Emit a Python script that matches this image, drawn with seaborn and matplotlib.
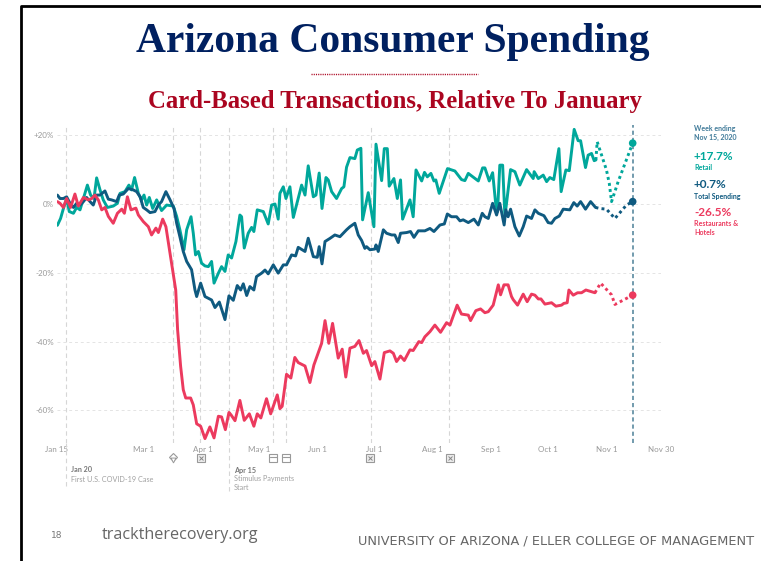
import matplotlib
matplotlib.use("Agg")
import matplotlib.pyplot as plt
import seaborn as sns
from matplotlib.lines import Line2D

# x values are days since Jan 15 2020, y values are % change relative to January
retail_days = [0.2, 1.9, 3.4, 5.1, 6.5, 8.7, 10.4, 12.2, 14, 16.1, 17.8, 19.6, 21, 22.8, 24.5, 26.7, 29.8, 32, 33.4, 36,
               38.1, 39.5, 41.1, 43.1, 44.8, 46.1, 47.5, 48.9, 50.7, 52.8, 55.4, 58.1, 61.6, 63.4, 65.1, 67.3, 68.7, 71, 72.2, 73.4,
               74.9, 76.6, 78.4, 80.2, 81.9, 83.2, 85.5, 87.2, 89, 90.7, 92.5, 94.8, 96.9, 97.8, 99.2, 101.3, 103.1, 104.3, 106.1, 109.3,
               111.9, 113.7, 115.5, 117.2, 118.1, 119.9, 121.3, 123.4, 125.2, 127.8, 129.6, 131.4, 133.1, 135.8, 137.2, 138.9, 140.4, 142.5, 143.7, 145.5,
               148.1, 150.8, 152, 153.4, 155.2, 157.8, 159.1, 161, 161.9, 164.9, 167.9, 169, 172, 173.4, 175, 176, 178.5, 180.3, 182, 183.1,
               187, 188.7, 190.2, 193.2, 194.7, 196.2, 198.1, 199.7, 200.7, 202.5, 206.9, 210.8, 214.3, 216.1, 217.9, 223.2, 225.5, 226.7, 229, 230.8,
               232.4, 233.4, 234.6, 236.1, 237.3, 240.3, 242.6, 245.2, 248.8, 252.3, 252.8, 255, 257.6, 259.4, 261.1, 263.2, 265.9, 267.1, 269.6, 271.4,
               274, 276.1, 277.4, 280, 281.4, 283.2, 284.6, 285.5]
retail_vals = [-6.2, -4.2, -1.3, 1.6, -2.2, -2.7, -1, -1.7, 1.6, 5.5, 2.6, 1.6, 7.6, 4.1, 1.2, -1, -0.6, 0.2, 3.1, 3.6,
               5.5, 4.1, 7.7, 3.1, 1.2, 2.6, -0.3, 1.9, -1.3, 1.2, -1.9, -0.3, -0.6, -3.6, -7.5, -13.3, -7.5, -3.7, -8.5, -14.8,
               -13.8, -17.2, -18, -18.2, -16.7, -23, -20.1, -18.2, -19.6, -14.8, -15.7, -10.9, -3.2, -3.7, -12.8, -8.5, -6.8, -8, -1.7, -2.2,
               -5.8, -0.3, 0, -4.4, 3.1, 5, 1.6, 5, -3.9, 1.6, 5.5, 2.6, 11.1, 2.1, 2.6, 9, -1.3, 7.7, 7, 3.6,
               1.6, 4.5, 5, 10.7, 13.5, 13.2, 15.7, 16.2, -4.6, 3.3, -6.6, 17.4, 6.8, 16.1, 16.1, 5.2, 7.4, 1.6, 7, -4.4,
               1.2, -3.7, 9.9, 6.7, 9.2, 7.9, 8.9, 6.7, 7, 3.1, 10.3, 9.6, 7.1, 6.8, 8.9, 6.7, 10.5, 10.5, 6.7, 9.1,
               0.2, -2.2, 11.3, 11.3, -3.7, 10, 9.4, 5.5, 10, 7.4, 9.4, 7.4, 8.4, 6.5, 7.7, 7.1, 16.1, 3.6, 9.9, 9.7,
               21.7, 18.4, 18.4, 10.6, 14.2, 14.7, 12.6, 12.8]
retail_dot_days = [285.5, 286.2, 291.1, 292.6, 293.8, 297.3, 305]
retail_dot_vals = [12.8, 18.1, 9.9, 6, 0.7, 6.5, 17.7]

total_days = [0.2, 1.6, 3.4, 5.1, 6.9, 8.7, 10.4, 12.2, 14, 15.7, 17.5, 19.2, 21, 22.8, 25.4, 27.2, 28.9, 31.6, 33, 35.1,
              37.8, 40.4, 42.2, 44, 45.7, 47.5, 49.3, 51.9, 53.7, 55.4, 57.7, 59.9, 62, 63.4, 65.1, 66.9, 68.7, 71.3, 73.1, 74,
              76.1, 78.4, 81.9, 83.7, 86, 89, 91.1, 93.4, 95.5, 97.3, 98.7, 100.5, 102.2, 104.3, 105.7, 108.4, 110.2, 111.9, 114.6, 117.2,
              119.9, 121.6, 124.3, 126.4, 127.8, 131.4, 133.1, 135.8, 137.9, 138.9, 140.4, 142, 144.6, 147.2, 149.9, 153.4, 155.2, 157.8, 159.6, 161.4,
              163.1, 164, 165.8, 168.4, 169, 170.2, 172.9, 174.6, 177.3, 179, 180.8, 182, 185.2, 187.3, 189.1, 191.4, 194.9, 197.6, 199.7, 202.9,
              205.2, 206.8, 209, 211.7, 213.5, 215.2, 217.9, 220.9, 223.2, 225.3, 226.7, 228.5, 230.8, 232.9, 234.6, 236.9, 237.8, 239, 240.3, 242.6,
              244.9, 247, 248.8, 251.4, 253.2, 255, 258, 260.2, 262, 263.8, 266.1, 268.2, 271.7, 273.8, 275.6, 277.4, 280, 282.7, 285.3]
total_vals = [2.6, 1.6, 1.6, 2.1, 0.2, -1, 0.2, -0.3, 0.7, 1.9, 0.7, -0.3, 2.6, 2.6, 3.8, 1.4, 1.2, 0.7, 2.6, 2.9,
              4.5, 4.1, 3.6, 2.1, -1, -1.7, -2.5, -2.2, -0.3, 0.7, 3.6, 1.2, -1.3, -5.6, -9.5, -13.8, -16.7, -19.1, -25, -26.9,
              -23, -26.9, -27.9, -30.1, -28.5, -33.6, -26.7, -28, -23.7, -25, -23.2, -26.6, -24, -25, -21.1, -20.1, -19.2, -20.3, -17.7, -20.1,
              -17.7, -17.7, -14.8, -15.1, -12.6, -13.8, -9.95, -15.3, -15.5, -12.4, -17.4, -10.9, -10, -9, -9.5, -7.5, -6.6, -5.6, -9, -10.6,
              -12.9, -12.4, -13.3, -13.1, -11.9, -13.8, -7.5, -8.5, -9, -9, -11.2, -8.5, -8.3, -8, -9.7, -7.8, -7.8, -7.1, -8, -6.1,
              -5.8, -2.9, -3.7, -3.7, -4.9, -4.6, -5.4, -4.4, -6.1, -2.7, -3.7, -4.2, 0.2, -3.2, 0.2, -6.1, -1.7, -3.7, -1.5, -6.6,
              -9.3, -6.6, -3.5, -4.2, -1.7, -2.7, -3.4, -5.4, -5.6, -4.2, -3.5, -1.5, -1.7, 0.4, -0.6, 0.7, -1.5, 0.7, -1]
total_dot_days = [285.3, 287.6, 291.1, 295.6, 301.7, 305]
total_dot_vals = [-1, -1.3, -1.5, -4.2, -0.3, 0.7]

rest_days = [0.2, 1.6, 3.4, 5.1, 7.2, 9.5, 11.3, 14, 16.6, 18.4, 20.1, 21.9, 23.7, 25.4, 27.2, 29.8, 32, 34.3, 35.7, 37.3,
             39.2, 41.8, 43.1, 45.7, 48.4, 50.1, 52.4, 53.7, 56, 57.7, 59.9, 61.6, 62.9, 63.9, 65.5, 66.9, 68.2, 70.8, 72.2, 74,
             76.1, 78.4, 81, 83.2, 85.5, 87.2, 89.2, 91.1, 92.2, 94.3, 96.9, 99.2, 101.9, 104.3, 106.1, 108, 111, 113.2, 116.7, 118.1,
             119.3, 121.6, 123.9, 126, 127.8, 131.4, 134, 136.1, 140.2, 142, 144, 146, 149, 151.1, 153, 155.2, 157.8, 160, 162.3, 164,
             166.7, 168.4, 171.1, 173.4, 176.4, 178.2, 179.9, 182, 184, 187, 188.7, 191.7, 193.2, 194.9, 197.6, 200.2, 203.2, 206.4, 208.2, 212,
             214.3, 217.9, 219.1, 221.9, 224.4, 226.7, 228.5, 231.1, 233.8, 235, 236.8, 239, 240.8, 241.7, 244, 247, 249.1, 251.4, 253.2, 255,
             256.4, 258.5, 262, 264.3, 267.3, 268.5, 270.3, 271.2, 273.5, 275.8, 277.9, 280.2, 285]
rest_vals = [0.7, 0.2, -1, 1.6, -1, 2.9, -0.6, 1.9, 1.2, 1.6, 2.6, 1.2, -1.7, -1, -3.6, -5.6, -2.7, -1.5, -2.7, 2.1,
             -1.7, -1.2, -3.2, -5.1, -6.6, -9, -7, -8.3, -4.4, -6.6, -14.3, -20.1, -25, -36.6, -47.2, -54, -56.4, -56.4, -58.4, -63.9,
             -64.6, -68.2, -64.8, -68, -61.7, -61.9, -65.6, -60.6, -61.3, -63, -57.1, -62.9, -61, -64.6, -61, -62.2, -56.6, -61, -55.5, -59.5,
             -58.8, -49.5, -50.6, -44.6, -46.1, -47.1, -51.9, -46.8, -40.5, -33.9, -40.5, -34.7, -44.8, -42.2, -50.3, -41.9, -41.4, -39.7, -43.4, -42.6,
             -47, -45.8, -50.9, -43.2, -42.7, -43.4, -45.8, -44.2, -45.5, -42.4, -42.6, -40, -40.3, -38.6, -37.1, -35.2, -37.3, -34.5, -35.2, -29.4,
             -32, -32.3, -33.9, -31, -30.5, -31.6, -31.3, -29.4, -23.5, -26.4, -23.5, -23.5, -26.9, -27.8, -29.4, -26.2, -28.4, -26.2, -26.5, -27.6,
             -27.6, -29.1, -28.7, -29.7, -29.4, -28.9, -28.7, -25, -26.5, -25.8, -25.8, -25, -25.8]
rest_dot_days = [285, 288, 293.8, 295.6, 305]
rest_dot_vals = [-25.8, -23, -26.4, -29.2, -26.5]

end_day = 305
end_vals = [17.7, 0.7, -26.5]

tick_days = [0, 46, 77, 107, 138, 168, 199, 230, 260, 291, 320]
tick_labels = ["Jan 15", "Mar 1", "Apr 1", "May 1", "Jun 1", "Jul 1", "Aug 1", "Sep 1", "Oct 1", "Nov 1", "Nov 30"]
y_ticks = [20, 0, -20, -40, -60]
y_labels = ["+20%", "0%", "-20%", "-40%", "-60%"]
event_days = [5, 61.3, 76, 91, 114.2, 121.1, 166.1, 207.8]

TEAL = "#00A79B"
NAVY = "#0F5A80"
RED = "#EC3A5E"

sns.set_theme(style="white")
plt.rcParams["font.family"] = ["Lato", "DejaVu Sans"]

W, H = 761, 561
fig = plt.figure(figsize=(W / 100, H / 100), dpi=100)
ax = fig.add_axes([57 / W, (H - 443) / H, 604 / W, 318 / H])

series = [(retail_days, retail_vals, retail_dot_days, retail_dot_vals, TEAL),
          (total_days, total_vals, total_dot_days, total_dot_vals, NAVY),
          (rest_days, rest_vals, rest_dot_days, rest_dot_vals, RED)]

# guides first so the lines sit on top
ax.hlines(y_ticks, 0, 320, color="#e4e4e4", lw=0.7, ls=(0, (3, 3)), zorder=1)
ax.vlines(event_days, -69.5, 23, color="#d6d6d6", lw=0.8, ls=(0, (4, 3)), zorder=1)
ax.vlines(end_day, -69.5, 23, color="#5a8aa0", lw=1.2, ls=(0, (2.5, 1.8)), zorder=1)
# the two annotated events run on below the axis
ax.vlines([5, 91], [-82, -83.5], -69.5, color="#d6d6d6", lw=0.8, ls=(0, (4, 3)), clip_on=False)

for days, vals, dot_days, dot_vals, col in series:
    sns.lineplot(x=days, y=vals, color=col, lw=2.1, estimator=None, sort=False, ax=ax, zorder=3,
                 solid_joinstyle="round")
    sns.lineplot(x=dot_days, y=dot_vals, color=col, lw=2.1, estimator=None, sort=False, ax=ax,
                 ls=(0, (1, 1.1)), zorder=3)
sns.scatterplot(x=[end_day] * 3, y=end_vals, hue=["a", "b", "c"], palette=[TEAL, NAVY, RED],
                s=30, linewidth=0, legend=False, ax=ax, zorder=4, clip_on=False)

ax.set_xlim(0, 320)
ax.set_ylim(-69.48, 22.97)
ax.set_xticks(tick_days, tick_labels)
ax.set_yticks(y_ticks, y_labels)
ax.tick_params(axis="both", length=0, labelsize=5.8, labelcolor="#999999")
ax.tick_params(axis="x", pad=2)
ax.tick_params(axis="y", pad=2)
sns.despine(ax=ax, left=True, bottom=True)
ax.patch.set_alpha(0)


def px(x, y, s, **kw):
    fig.text(x / W, 1 - y / H, s, **kw)


# slide furniture
fig.add_artist(Line2D([21 / W, 21 / W, 1], [0, 1 - 6 / H, 1 - 6 / H], color="black", lw=2.0))
fig.add_artist(Line2D([311 / W, 478 / W], [1 - 74 / H] * 2, color="#AB0520", lw=1.0, ls=(0, (0.8, 0.8))))
px(393, 52, "Arizona Consumer Spending", family="Liberation Serif", weight="bold", size=29.9,
   color="#002060", ha="center", va="baseline")
px(394.5, 108, "Card-Based Transactions, Relative To January", family="Liberation Serif", weight="bold",
   size=17.85, color="#AB0520", ha="center", va="baseline")
px(57, 536, "18", family="DejaVu Sans", size=6.5, color="#777777", ha="center", va="center")
px(102, 535, "tracktherecovery.org", family="Open Sans", size=11.6, color="#666666", va="center")
px(358, 541, "UNIVERSITY OF ARIZONA / ELLER COLLEGE OF MANAGEMENT", family="DejaVu Sans", size=9.25,
   color="#666666", va="center")

# side labels
px(694, 128, "Week ending", size=5, weight="bold", color="#3f7a99", va="center")
px(694, 137, "Nov 15, 2020", size=5, weight="bold", color="#3f7a99", va="center")
px(694, 157, "+17.7%", size=8.5, weight="bold", color=TEAL, va="center")
px(694, 167.5, "Retail", size=5, weight="bold", color=TEAL, va="center")
px(694, 184, "+0.7%", size=8.5, weight="bold", color=NAVY, va="center")
px(694, 196, "Total Spending", size=5, weight="bold", color=NAVY, va="center")
px(694, 212, "-26.5%", size=8.5, weight="bold", color=RED, va="center")
px(694, 224, "Restaurants &", size=5, weight="bold", color=RED, va="center")
px(694, 232.5, "Hotels", size=5, weight="bold", color=RED, va="center")

# event notes
px(71, 470, "Jan 20", size=5.2, weight="bold", color="#777777", va="center")
px(71, 479, "First U.S. COVID-19 Case", size=5.2, color="#a0a0a0", va="center")
px(234, 470, "Apr 15", size=5.2, weight="bold", color="#777777", va="center")
px(234, 479, "Stimulus Payments", size=5.2, color="#a0a0a0", va="center")
px(234, 488, "Start", size=5.2, color="#a0a0a0", va="center")

# event icons under the axis
for ix in [201, 370, 450]:
    fig.add_artist(Line2D([ix / W], [1 - 458 / H], marker="s", ms=6, mfc="#eeeeee", mec="#999999", mew=0.8))
    fig.add_artist(Line2D([ix / W], [1 - 458 / H], marker="x", ms=3, mec="#888888", mew=0.7))
for ix in [273, 286]:
    fig.add_artist(Line2D([ix / W], [1 - 458 / H], marker="s", ms=6, mfc="white", mec="#999999", mew=0.8))
    fig.add_artist(Line2D([(ix - 3.5) / W, (ix + 3.5) / W], [1 - 456.5 / H] * 2, color="#999999", lw=0.8))
fig.add_artist(Line2D([173 / W], [1 - 457 / H], marker="D", ms=4, mfc="white", mec="#999999", mew=0.8))
fig.add_artist(Line2D([173 / W], [1 - 460 / H], marker="v", ms=3.5, mfc="white", mec="#999999", mew=0.7))

fig.savefig("out.png", dpi=100)
